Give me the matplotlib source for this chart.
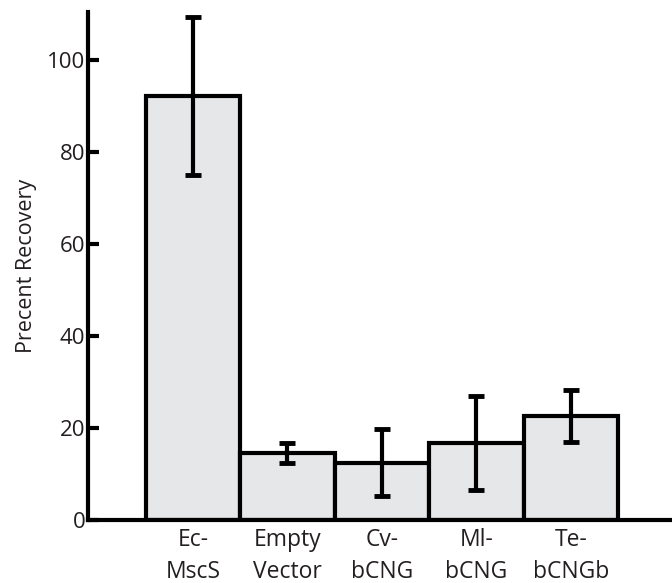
import numpy as np
import matplotlib
matplotlib.use("Agg")
import matplotlib.pyplot as plt

plt.rcParams['font.family'] = ['Open Sans', 'DejaVu Sans']

# Percent recovery per construct (mean and error)
labels = ["Ec-\nMscS", "Empty\nVector", "Cv-\nbCNG", "Ml-\nbCNG", "Te-\nbCNGb"]
recovery = [92.2, 14.6, 12.5, 16.8, 22.6]
errors = [17.2, 2.2, 7.3, 10.2, 5.7]
yticks = [0, 20, 40, 60, 80, 100]

text_col = "#231f20"

fig = plt.figure(figsize=(6.72, 5.83), dpi=100)
ax = fig.add_axes([0.131, 0.108, 0.869, 0.871])

x = np.arange(len(labels))
ax.bar(x, recovery, width=1.0, color="#e6e7e8", edgecolor="black",
       linewidth=3.0, zorder=2)
ax.errorbar(x, recovery, yerr=errors, fmt="none", ecolor="black",
            elinewidth=3.0, capsize=5.5, capthick=3.5, zorder=3)

ax.set_xlim(-1.11, 5.07)
ax.set_ylim(0, 110.4)
ax.set_yticks(yticks)
ax.set_xticks(x)
ax.set_xticklabels(labels, fontsize=16.5, color=text_col, linespacing=1.4)
ax.tick_params(axis="x", length=0, pad=6)
ax.tick_params(axis="y", direction="in", length=8, width=3,
               labelsize=16, labelcolor=text_col, pad=2)
ax.set_ylabel("Precent Recovery", fontsize=15.5, color=text_col, labelpad=7)

for side in ("top", "right"):
    ax.spines[side].set_visible(False)
for side in ("left", "bottom"):
    ax.spines[side].set_linewidth(3)

fig.savefig("out.png", dpi=100)
